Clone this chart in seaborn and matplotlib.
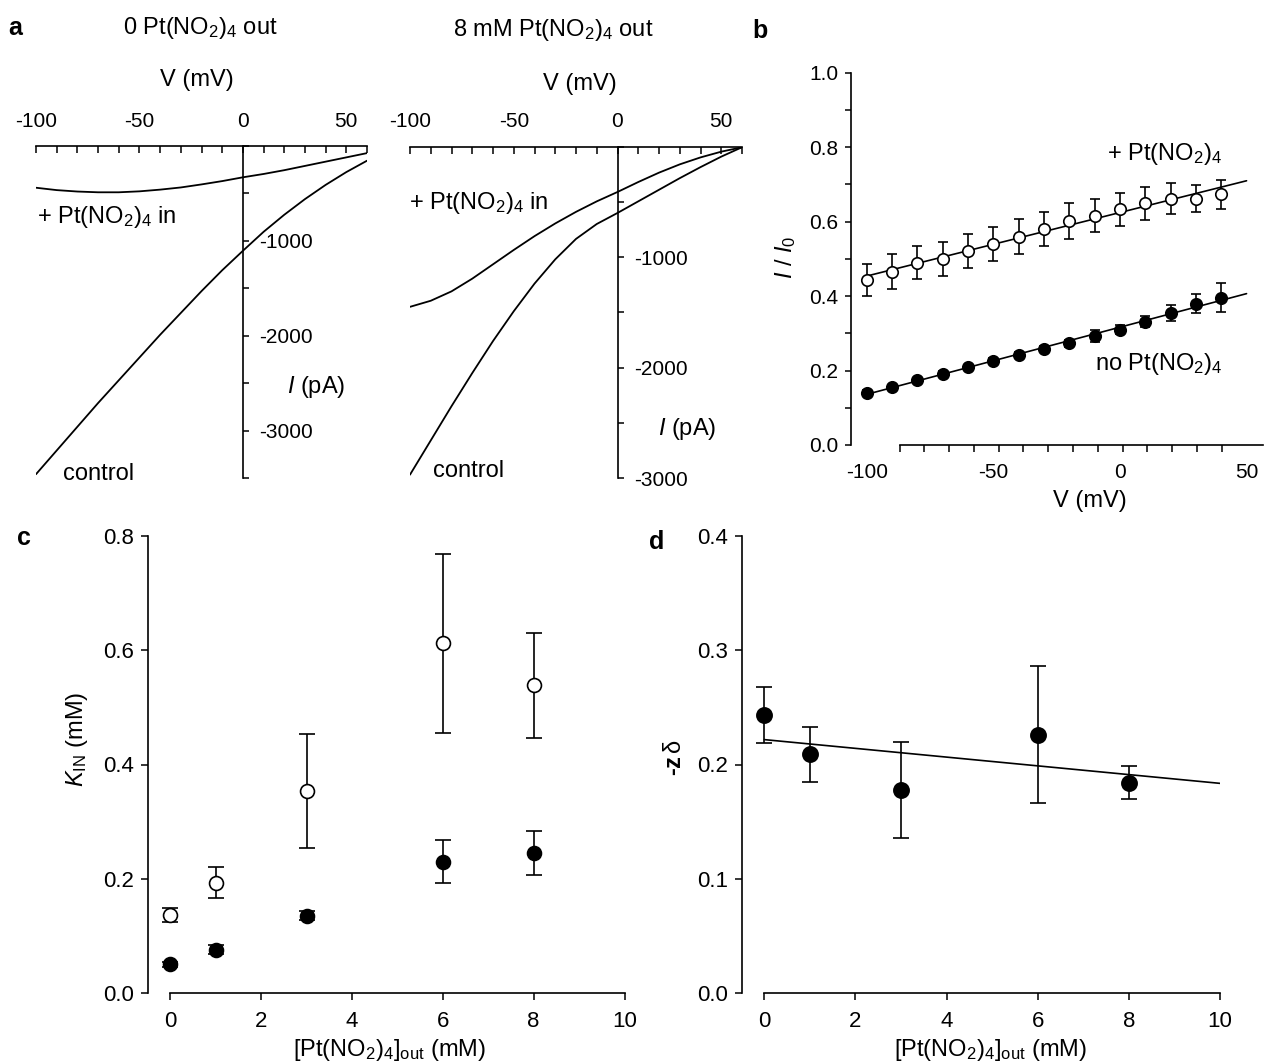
import numpy as np
import seaborn as sns
from matplotlib import pyplot as plt
from matplotlib.ticker import MultipleLocator, FixedLocator

W, H = 1265, 1064

# panel a: whole-cell I-V traces (V in mV, I in pA)
V_TRACE = [-100, -90, -80, -70, -60, -50, -40, -30, -20, -10, 0, 10, 20, 30, 40, 50, 60]
A0_CONTROL = [-3460, -3210, -2960, -2710, -2470, -2230, -1990, -1760, -1530, -1310,
              -1105, -905, -725, -560, -410, -275, -155]
A0_PT_IN = [-440, -465, -480, -488, -488, -478, -460, -437, -405, -370,
            -330, -295, -255, -210, -165, -120, -75]
A8_CONTROL = [-2970, -2660, -2350, -2050, -1760, -1490, -1240, -1020, -835, -700,
              -600, -495, -390, -285, -185, -90, -5]
A8_PT_IN = [-1450, -1395, -1310, -1195, -1065, -935, -810, -695, -590, -495,
            -410, -320, -235, -160, -97, -45, -5]

# panel b: I / I0 vs V
V_B = [-100, -90, -80, -70, -60, -50, -40, -30, -20, -10, 0, 10, 20, 30, 40]
B_PT = [0.443, 0.466, 0.490, 0.500, 0.521, 0.540, 0.560, 0.580, 0.602, 0.616,
        0.633, 0.649, 0.662, 0.662, 0.674]
B_PT_ERR = [0.043, 0.048, 0.045, 0.046, 0.046, 0.046, 0.047, 0.046, 0.048, 0.045,
            0.045, 0.045, 0.042, 0.036, 0.039]
B_NO_PT = [0.141, 0.155, 0.175, 0.192, 0.209, 0.226, 0.243, 0.257, 0.273, 0.293,
           0.309, 0.331, 0.354, 0.380, 0.396]
B_NO_PT_ERR = [0.006, 0.006, 0.006, 0.006, 0.007, 0.007, 0.008, 0.008, 0.010, 0.015,
               0.012, 0.015, 0.021, 0.025, 0.040]

# panels c, d: vs external Pt(NO2)4 (mM)
PT_OUT = [0, 1, 3, 6, 8]
K_OPEN = [0.137, 0.193, 0.353, 0.612, 0.539]
K_OPEN_ERR = [0.012, 0.027, 0.100, 0.156, 0.092]
K_FILLED = [0.050, 0.076, 0.135, 0.230, 0.245]
K_FILLED_ERR = [0.005, 0.008, 0.008, 0.038, 0.039]
ZDELTA = [0.243, 0.209, 0.178, 0.226, 0.184]
ZDELTA_ERR = [0.0245, 0.024, 0.042, 0.060, 0.0145]

PT = r'Pt(NO$_2$)$_4$'
FS_TICK = 15
FS_TICK_CD = 16
FS = 17


def px_axes(fig, left, top, right, bottom):
    return fig.add_axes([left / W, 1 - bottom / H, (right - left) / W, (bottom - top) / H])


def draw_iv(ax, control, pt_in, ymin, texts):
    sns.lineplot(x=V_TRACE, y=control, ax=ax, color='black', lw=1.3, estimator=None, sort=False)
    sns.lineplot(x=V_TRACE, y=pt_in, ax=ax, color='black', lw=1.3, estimator=None, sort=False)
    ax.set_xlim(-100, 60)
    ax.set_ylim(ymin, 0)
    for s in ['left', 'bottom']:
        ax.spines[s].set_visible(False)
    ax.spines['right'].set_position(('data', 0))
    ax.xaxis.tick_top()
    ax.xaxis.set_label_position('top')
    ax.yaxis.tick_right()
    ax.set_xticks([-100, -50, 0, 50])
    ax.xaxis.set_minor_locator(MultipleLocator(10))
    ax.tick_params(axis='x', which='both', direction='in', length=5, width=1.1, pad=11)
    ax.set_yticks([-1000, -2000, -3000])
    ax.yaxis.set_minor_locator(MultipleLocator(500))
    ax.tick_params(axis='y', which='both', direction='out', length=4, width=1.1, pad=8)
    ax.set_xlabel('V (mV)', va='center')
    ax.set_ylabel('')
    for label, fx, fy in texts:
        ax.text(fx, fy, label, transform=ax.transAxes, ha='left', va='baseline', fontsize=FS)


def points(ax, x, y, err, filled, size, capsize):
    ax.errorbar(x, y, yerr=err, fmt='none', ecolor='black', elinewidth=1.2,
                capsize=capsize, capthick=1.2, zorder=2)
    sns.scatterplot(x=x, y=y, ax=ax, s=size, marker='o', color='black' if filled else 'white',
                    edgecolor='black', linewidth=1.2, zorder=3, legend=False)


def fit_line(ax, x, y, lo, hi):
    slope, icpt = np.polyfit(x, y, 1)
    xs = np.array([lo, hi])
    sns.lineplot(x=xs, y=slope * xs + icpt, ax=ax, color='black', lw=1.2, zorder=1)


def style_bottom(ax, ymax, ystep):
    ax.set_xlim(-0.5, 10)
    ax.set_ylim(0, ymax)
    sns.despine(ax=ax)
    ax.spines['bottom'].set_bounds(0, 10)
    ax.set_xticks([0, 2, 4, 6, 8, 10])
    ax.set_yticks(np.arange(0, ymax + 1e-9, ystep))
    ax.yaxis.set_major_formatter(lambda v, p: f'{v:.1f}')
    ax.tick_params(axis='x', direction='out', length=5, width=1.1, pad=8, labelsize=FS_TICK_CD)
    ax.tick_params(axis='y', direction='out', length=5, width=1.1, pad=5, labelsize=FS_TICK_CD)
    ax.set_xlabel('[' + PT + r']$_{\mathrm{out}}$ (mM)', va='center')


def main():
    sns.set_theme(style='ticks', rc={
        'axes.edgecolor': 'black', 'axes.labelcolor': 'black', 'text.color': 'black',
        'xtick.color': 'black', 'ytick.color': 'black', 'axes.linewidth': 1.2,
        'axes.labelsize': FS, 'xtick.labelsize': FS_TICK, 'ytick.labelsize': FS_TICK,
        'axes.unicode_minus': False,
    })
    plt.rcParams['font.family'] = ['Liberation Sans', 'DejaVu Sans']
    plt.rcParams['mathtext.fontset'] = 'custom'
    plt.rcParams['mathtext.rm'] = 'Liberation Sans'
    plt.rcParams['mathtext.it'] = 'Liberation Sans:italic'
    plt.rcParams['mathtext.bf'] = 'Liberation Sans:bold'

    fig = plt.figure(figsize=(W / 100, H / 100), dpi=100)

    # a: left (0 mM out) and right (8 mM out) traces
    ax_a0 = px_axes(fig, 36, 146, 367, 478)
    draw_iv(ax_a0, A0_CONTROL, A0_PT_IN, -3500, [
        ('+ ' + PT + ' in', 0.002, 0.769),
        ('control', 0.082, -0.006),
        (r'$\mathit{I}$ (pA)', 0.758, 0.256),
    ])
    ax_a0.xaxis.set_label_coords(0.486, 1.199)

    ax_a8 = px_axes(fig, 410, 146.7, 742, 478)
    draw_iv(ax_a8, A8_CONTROL, A8_PT_IN, -3000, [
        ('+ ' + PT + ' in', -0.004, 0.812),
        ('control', 0.069, 0.004),
        (r'$\mathit{I}$ (pA)', 0.747, 0.13),
    ])
    ax_a8.xaxis.set_label_coords(0.512, 1.189)

    fig.text(200 / W, 1 - 34 / H, '0 ' + PT + ' out', ha='center', va='baseline', fontsize=FS)
    fig.text(553 / W, 1 - 36 / H, '8 mM ' + PT + ' out', ha='center', va='baseline', fontsize=FS)

    # b: relative current vs voltage
    ax_b = px_axes(fig, 850.7, 72.7, 1263, 445)
    fit_line(ax_b, V_B, B_PT, -100, 50)
    fit_line(ax_b, V_B, B_NO_PT, -100, 50)
    points(ax_b, V_B, B_PT, B_PT_ERR, False, 68, 3.5)
    points(ax_b, V_B, B_NO_PT, B_NO_PT_ERR, True, 68, 3.5)
    ax_b.set_xlim(-106.3, 56.5)
    ax_b.set_ylim(0, 1.0)
    sns.despine(ax=ax_b)
    ax_b.spines['bottom'].set_bounds(-87, 56.5)
    ax_b.set_xticks([-100, -50, 0, 50])
    ax_b.xaxis.set_minor_locator(FixedLocator(np.linspace(-87, 50, 15)))
    ax_b.tick_params(axis='x', which='major', length=0, pad=13)
    ax_b.tick_params(axis='x', which='minor', direction='out', length=5, width=1.1)
    ax_b.set_yticks([0, 0.2, 0.4, 0.6, 0.8, 1.0])
    ax_b.yaxis.set_major_formatter(lambda v, p: f'{v:.1f}')
    ax_b.yaxis.set_minor_locator(MultipleLocator(0.1))
    ax_b.tick_params(axis='y', which='both', direction='out', length=4, width=1.1, pad=5)
    ax_b.set_xlabel('V (mV)', va='center')
    ax_b.xaxis.set_label_coords(0.58, -0.15)
    ax_b.set_ylabel(r'$\mathit{I}$ / $\mathit{I}_{\mathrm{0}}$', va='center')
    ax_b.yaxis.set_label_coords(-0.157, 0.505)
    ax_b.text(-5.1, 0.766, '+ ' + PT, ha='left', va='baseline', fontsize=FS)
    ax_b.text(-9.9, 0.201, 'no ' + PT, ha='left', va='baseline', fontsize=FS)

    # c: K_IN vs external concentration
    ax_c = px_axes(fig, 147.5, 536, 624.5, 993)
    points(ax_c, PT_OUT, K_OPEN, K_OPEN_ERR, False, 100, 5.5)
    points(ax_c, PT_OUT, K_FILLED, K_FILLED_ERR, True, 100, 5.5)
    style_bottom(ax_c, 0.8, 0.2)
    ax_c.xaxis.set_label_coords(0.508, -0.125)
    ax_c.set_ylabel(r'$\mathit{K}_{\mathrm{IN}}$ (mM)', va='center')
    ax_c.yaxis.set_label_coords(-0.148, 0.554)

    # d: -z delta vs external concentration
    ax_d = px_axes(fig, 741.6, 536, 1219.9, 993)
    fit_line(ax_d, PT_OUT, ZDELTA, 0, 10)
    points(ax_d, PT_OUT, ZDELTA, ZDELTA_ERR, True, 120, 5.5)
    style_bottom(ax_d, 0.4, 0.1)
    ax_d.xaxis.set_label_coords(0.521, -0.125)
    ax_d.set_ylabel(r'-z$\,\mathrm{\delta}$', va='center', fontweight='bold')
    ax_d.yaxis.set_label_coords(-0.141, 0.516)

    for letter, x, y in [('a', 8, 35), ('b', 752, 38), ('c', 17, 545), ('d', 649, 549)]:
        fig.text(x / W, 1 - y / H, letter, ha='left', va='baseline', fontsize=18, fontweight='bold')

    fig.savefig('out.png', dpi=100)


if __name__ == '__main__':
    main()
